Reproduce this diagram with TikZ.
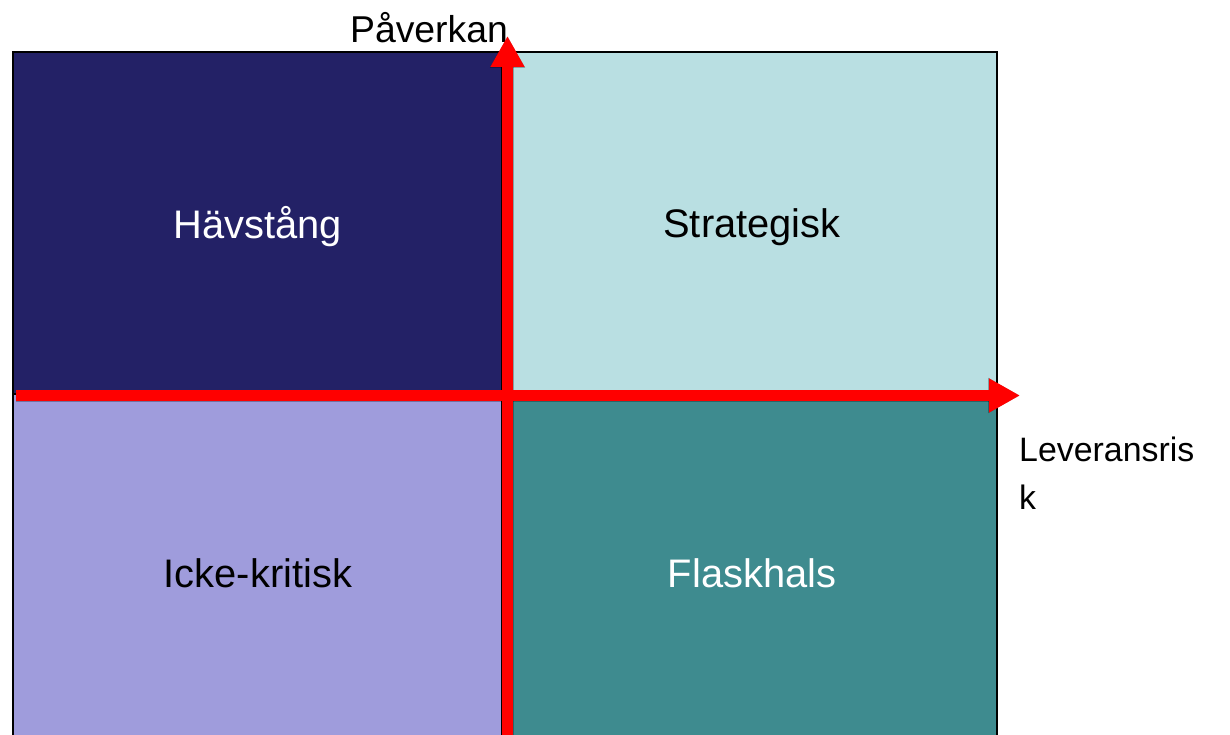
\documentclass[tikz,border=0pt]{standalone}
\usepackage{fontspec}
\setmainfont{Liberation Sans}
\usetikzlibrary{arrows.meta}
\definecolor{navyq}{HTML}{232166}
\definecolor{lightq}{HTML}{B9DFE2}
\definecolor{lilacq}{HTML}{9F9CDC}
\definecolor{tealq}{HTML}{3E8B8F}
\begin{document}
\begin{tikzpicture}[x=1bp,y=-1bp,
  quad/.style={draw=black,line width=1.5bp,anchor=north west,inner sep=0pt,outer sep=0pt},
  lbl/.style={font=\fontsize{40}{44}\selectfont,inner sep=0pt},
  axlbl/.style={font=\fontsize{37.5}{44}\selectfont,inner sep=0pt},
  sidelbl/.style={font=\fontsize{34}{48}\selectfont,inner sep=0pt},
  axis/.style={red,line width=11bp,-{Triangle[width=32bp,length=31bp]}},
  axshadow/.style={black,opacity=0.28,line width=12bp,-{Triangle[width=33bp,length=32bp]}}]
\useasboundingbox (0,0) rectangle (1230,735);
\node[quad,fill=navyq,minimum width=489bp,minimum height=342bp] (hav) at (13,52) {};
\node[quad,fill=lightq,minimum width=495bp,minimum height=342bp] (str) at (502,52) {};
\node[quad,fill=lilacq,minimum width=489bp,minimum height=360bp] (ick) at (13,394) {};
\node[quad,fill=tealq,minimum width=495bp,minimum height=360bp] (fla) at (502,394) {};
\node[lbl,white] (thav) at (258,227) {Hävstång};
\node[lbl,black] (tstr) at (752,227) {Strategisk};
\node[lbl,black] (tick) at (258,573) {Icke-kritisk};
\node[lbl,white] (tfla) at (752,573) {Flaskhals};
\node[axlbl,black] (tpav) at (429,28) {Påverkan};
\node[sidelbl,black,anchor=north west,align=left] (tlev) at (1019,437) {Leveransris\\k};
\coordinate (vs) at (507.5,740);
\coordinate (ve) at (507.5,36);
\coordinate (hs) at (16,395.5);
\coordinate (he) at (1020,395.5);
\begin{scope}[shift={(4,4)}]
\draw[axshadow] (vs) -- (ve);
\draw[axshadow] (hs) -- (he);
\end{scope}
\draw[axis] (hs) -- (he);
\draw[axis] (vs) -- (ve);
\end{tikzpicture}
\end{document}
